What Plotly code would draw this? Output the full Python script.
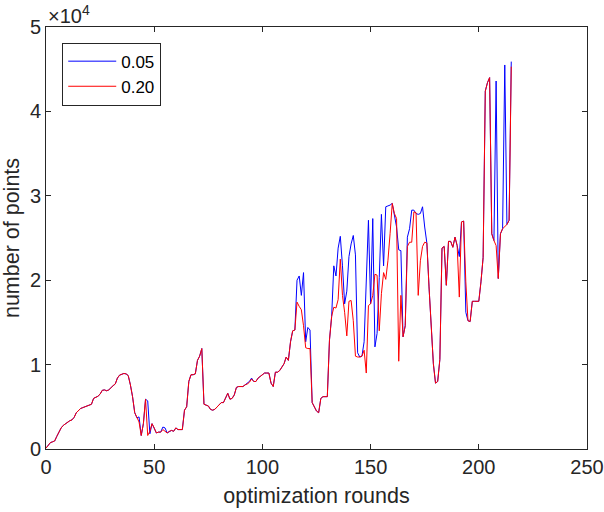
import plotly.graph_objects as go

# rondas de optimizacion (216 puntos)
rounds = list(range(0, 216))

# numero de puntos, umbral 0.20 (linea roja)
points_020 = [
    100, 450, 750, 850, 950, 1500, 2100, 2500, 2800, 3000,
    3250, 3350, 3450, 3750, 4300, 4600, 4800, 4900, 5000, 5050,
    5150, 5300, 6000, 6100, 6250, 6500, 6950, 7000, 6900, 7000,
    7300, 7500, 7700, 8400, 8750, 8900, 8950, 8900, 8700, 7600,
    6200, 4300, 3700, 3200, 1600, 3000, 5900, 1600, 2100, 3000,
    2500, 1900, 2000, 2000, 2300, 2100, 1900, 2100, 2200, 2100,
    2500, 2300, 2300, 2300, 4600, 5000, 8000, 8800, 8800, 8900,
    10500, 11000, 11900, 5300, 5200, 5100, 4700, 4600, 4700, 5000,
    5300, 5500, 5500, 6000, 6600, 5900, 6000, 6400, 7300, 7400,
    7400, 7400, 7600, 7700, 7900, 8300, 8000, 8000, 8400, 8600,
    8800, 9000, 9000, 9000, 7800, 7400, 9100, 9100, 9300, 9700,
    10100, 10900, 10500, 12700, 14000, 14100, 17400, 16900, 16500, 14600,
    12000, 11900, 11900, 5500, 5000, 4500, 4300, 6000, 6200, 6200,
    6200, 12900, 15700, 16800, 16700, 17700, 22500, 18200, 16200, 13400,
    17500, 17600, 15200, 11000, 10900, 10900, 11000, 11700, 9000, 17000,
    17200, 18200, 20700, 20600, 14000, 18400, 20900, 20100, 22300, 25500,
    29100, 27900, 27300, 10400, 18200, 13300, 14600, 24000, 24500, 24500,
    28100, 28000, 18200, 22300, 24000, 24500, 24400, 19200, 14100, 10100,
    7800, 8000, 10600, 23800, 24000, 19400, 24600, 24600, 23900, 25100,
    24100, 18000, 26900, 27000, 19800, 15200, 15100, 17500, 17500, 17500,
    17500, 19800, 22700, 42400, 43400, 44000, 25500, 24700, 24100, 20200,
    25500, 26100, 26300, 26600, 27100, 45300,
]

# numero de puntos, umbral 0.05 (linea azul)
points_005 = [
    100, 450, 750, 850, 950, 1500, 2100, 2500, 2800, 3000,
    3250, 3350, 3450, 3750, 4300, 4600, 4800, 4900, 5000, 5050,
    5150, 5300, 6000, 6100, 6250, 6500, 6950, 7000, 6900, 7000,
    7300, 7500, 7700, 8400, 8750, 8900, 8950, 8900, 8700, 7600,
    6200, 4300, 3700, 3800, 1600, 3000, 5900, 5700, 1800, 3000,
    2500, 1900, 2000, 2000, 2600, 2500, 1900, 2100, 2200, 2100,
    2500, 2300, 2300, 2300, 4600, 5000, 8000, 8800, 8800, 8900,
    10500, 11000, 11900, 5300, 5200, 5100, 4700, 4600, 4700, 5000,
    5300, 5500, 5500, 6000, 6600, 5900, 6000, 6400, 7300, 7400,
    7400, 7400, 7600, 7800, 8000, 8400, 8000, 8000, 8400, 8600,
    8800, 9000, 9000, 9000, 7800, 7400, 9100, 9100, 9300, 9700,
    10100, 10900, 10500, 12700, 14000, 14100, 20000, 20500, 18200, 20900,
    12700, 14400, 14100, 5500, 5000, 4500, 4300, 6000, 6200, 6200,
    6200, 12900, 15700, 21700, 20500, 23800, 25200, 21700, 17200, 18700,
    22800, 24300, 25300, 23000, 11400, 10900, 11000, 12700, 20200, 27100,
    17200, 27300, 12100, 13700, 20300, 27800, 21700, 28700, 28800, 28900,
    29100, 27900, 26300, 23600, 23500, 13300, 14600, 25100, 26100, 28300,
    28300, 27900, 27800, 27900, 28700, 26300, 24400, 19200, 14100, 10100,
    7800, 8000, 10600, 23800, 24000, 19400, 24600, 24600, 23900, 25100,
    24100, 22800, 26900, 27000, 16200, 15200, 15100, 17500, 17500, 17500,
    17500, 19800, 22700, 42400, 43400, 44000, 25500, 24700, 43600, 20200,
    25500, 26100, 45500, 26600, 27100, 45900,
]

y_ticks = [0, 10000, 20000, 30000, 40000, 50000]
y_tick_labels = ['0', '1', '2', '3', '4', '5']
x_ticks = [0, 50, 100, 150, 200, 250]

fig = go.Figure()

fig.add_trace(go.Scatter(
    x=rounds, y=points_005, mode='lines', name='0.05',
    line=dict(color='#0000ff', width=1)
))
fig.add_trace(go.Scatter(
    x=rounds, y=points_020, mode='lines', name='0.20',
    line=dict(color='#ff0000', width=1)
))

font_color = '#262626'

fig.update_layout(
    width=604, height=512,
    paper_bgcolor='white', plot_bgcolor='white',
    margin=dict(l=46, r=17, t=27, b=63),
    font=dict(family='Liberation Sans, Arial, sans-serif', size=20, color=font_color),
    showlegend=True,
    legend=dict(
        x=0.03, y=0.963, xanchor='left', yanchor='top',
        bgcolor='white', bordercolor='#262626', borderwidth=1,
        font=dict(size=17, color='black'),
        tracegroupgap=0, itemwidth=48
    ),
    xaxis=dict(
        range=[0, 250], tickvals=x_ticks, automargin=False,
        showgrid=False, zeroline=False,
        showline=True, linecolor='#262626', linewidth=1, mirror='ticks',
        ticks='inside', ticklen=5, tickcolor='#262626',
        tickfont=dict(size=20, color=font_color),
        title=dict(text='optimization rounds', font=dict(size=21.5, color=font_color), standoff=10)
    ),
    yaxis=dict(
        range=[0, 50000], tickvals=y_ticks, ticktext=y_tick_labels, automargin=False,
        showgrid=False, zeroline=False,
        showline=True, linecolor='#262626', linewidth=1, mirror='ticks',
        ticks='inside', ticklen=5, tickcolor='#262626',
        tickfont=dict(size=20, color=font_color),
        title=dict(text='number of points', font=dict(size=21.5, color=font_color), standoff=6)
    ),
    annotations=[dict(
        text='×10<sup>4</sup>', xref='paper', yref='paper',
        x=0, y=1, xanchor='left', yanchor='bottom',
        showarrow=False, font=dict(size=20, color=font_color), yshift=-2
    )]
)

# quitar el margen por defecto del body y la barra de herramientas
fig.write_html("out.html", config={'displayModeBar': False},
               post_script="document.body.style.margin='0';")
